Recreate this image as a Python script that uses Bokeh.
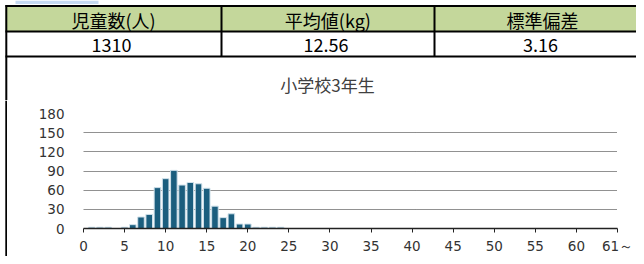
from bokeh.plotting import figure
from bokeh.layouts import column, row
from bokeh.models import Range1d, FixedTicker, ColumnDataSource
from bokeh.core.properties import value
from bokeh.embed import file_html
from bokeh.resources import INLINE

# ---- data ----
header_labels = ["児童数(人)", "平均値(kg)", "標準偏差"]
header_values = ["1310", "12.56", "3.16"]
chart_title = "小学校3年生"

weight_kg = [1, 2, 3, 4, 5, 6, 7, 8, 9, 10, 11, 12,
             13, 14, 15, 16, 17, 18, 19, 20, 21, 22, 23, 24]
children = [2, 2, 2, 0, 2, 6, 18, 22, 64, 78, 91, 68,
            72, 70, 63, 35, 17, 23, 7, 7, 2, 2, 2, 2]

x_ticks = [0, 5, 10, 15, 20, 25, 30, 35, 40, 45, 50, 55, 60, 65]
x_tick_labels = ["0", "5", "10", "15", "20", "25", "30", "35", "40",
                 "45", "50", "55", "60", "61～"]
y_ticks = [0, 30, 60, 90, 120, 150, 180]

# ---- styles ----
GREEN = "#C4D79B"
BAR = "#1B5E7E"
JP_FONT = "Noto Sans CJK JP"
AX_FONT = "DejaVu Sans"

W, H = 636, 256
TOP_H = 100
STRIP_W = 7


def bare(fig):
    fig.xgrid.visible = False
    fig.ygrid.visible = False
    fig.frame_align = False
    return fig


# ---- top: table + title (pixel coordinates of the sheet) ----
col_edges = [5, 221, 434, 650]
top = bare(figure(width=W, height=TOP_H, x_range=Range1d(0, W), y_range=Range1d(TOP_H, 0),
                  output_backend="svg", toolbar_location=None,
                  x_axis_type=None, y_axis_type=None,
                  min_border=0, min_border_left=0, min_border_right=0,
                  min_border_top=0, min_border_bottom=0, outline_line_color=None))

lefts = col_edges[:-1]
rights = col_edges[1:]
centers = [(a + b) / 2 for a, b in zip(lefts, rights)]
# decorative light-blue tab above the table
top.quad(left=[15], right=[98], top=[0], bottom=[3.5], fill_color="#C5D9F1", line_color=None)
top.quad(left=lefts, right=rights, top=[5.5] * 3, bottom=[31] * 3,
         fill_color=GREEN, line_color=None)
top.quad(left=lefts, right=rights, top=[31] * 3, bottom=[56] * 3,
         fill_color="white", line_color=None)
# borders
top.segment(x0=[5, 5, 5], y0=[5.5, 31, 56], x1=[650, 650, 650], y1=[5.5, 31, 56],
            line_color="black", line_width=2)
top.segment(x0=col_edges[1:3], y0=[5.5, 5.5], x1=col_edges[1:3], y1=[56, 56],
            line_color="black", line_width=2)
top.segment(x0=[5.8], y0=[4.5], x1=[5.8], y1=[TOP_H], line_color="black", line_width=2)

top.text(x=centers, y=[19.5] * 3, text=header_labels,
         text_font=value(JP_FONT), text_font_size="18px", text_color="black",
         text_align="center", text_baseline="middle")
top.text(x=[c - 2 for c in centers], y=[44] * 3, text=header_values,
         text_font=value(JP_FONT), text_font_size="18px", text_color="black",
         text_align="center", text_baseline="middle")
top.text(x=[327], y=[84], text=[chart_title],
         text_font=value(JP_FONT), text_font_size="17px", text_color="#404040",
         text_align="center", text_baseline="middle")

# ---- left border strip of the chart box ----
strip = bare(figure(width=STRIP_W, height=H - TOP_H, x_range=Range1d(0, STRIP_W),
                    y_range=Range1d(0, 1), output_backend="svg", toolbar_location=None,
                    x_axis_type=None, y_axis_type=None, min_border=0,
                    min_border_left=0, min_border_right=0, min_border_top=0,
                    min_border_bottom=0, outline_line_color=None))
strip.quad(left=[4.8], right=[6.8], bottom=[0], top=[1], fill_color="black", line_color=None)

# ---- chart ----
src = ColumnDataSource(dict(x=weight_kg, top=children))
p = figure(width=W - STRIP_W, height=H - TOP_H, x_range=Range1d(0, 65), y_range=Range1d(0, 180),
           output_backend="svg", toolbar_location=None,
           min_border_left=83 - STRIP_W, min_border_right=W - 617, min_border_top=13,
           min_border_bottom=27, outline_line_color=None)
p.frame_align = False
p.vbar(x="x", top="top", width=0.8, source=src, fill_color=BAR,
       line_color="#cfe0ea", line_width=1)

p.xgrid.visible = False
p.ygrid.ticker = FixedTicker(ticks=y_ticks[1:])
p.ygrid.grid_line_color = "#222222"
p.ygrid.grid_line_dash = "1 1"
p.ygrid.grid_line_width = 1

p.xaxis.ticker = FixedTicker(ticks=x_ticks)
p.xaxis.major_label_overrides = {t: l for t, l in zip(x_ticks, x_tick_labels)}
p.xaxis.axis_line_color = "#222222"
p.xaxis.axis_line_width = 1.5
p.xaxis.major_tick_line_color = "#222222"
p.xaxis.major_tick_in = 0
p.xaxis.major_tick_out = 4
p.xaxis.minor_tick_line_color = None
p.xaxis.major_label_text_font = AX_FONT
p.xaxis.major_label_text_font_size = "13.5px"
p.xaxis.major_label_text_color = "#333333"

p.yaxis.ticker = FixedTicker(ticks=y_ticks)
p.yaxis.axis_line_color = None
p.yaxis.major_tick_line_color = None
p.yaxis.minor_tick_line_color = None
p.yaxis.major_tick_in = 0
p.yaxis.major_tick_out = 0
p.yaxis.major_label_standoff = 19
p.yaxis.major_label_text_font = AX_FONT
p.yaxis.major_label_text_font_size = "13.5px"
p.yaxis.major_label_text_color = "#333333"

layout = column(top, row(strip, p, spacing=0), spacing=0)

open("out.html", "w").write(file_html(layout, INLINE))
